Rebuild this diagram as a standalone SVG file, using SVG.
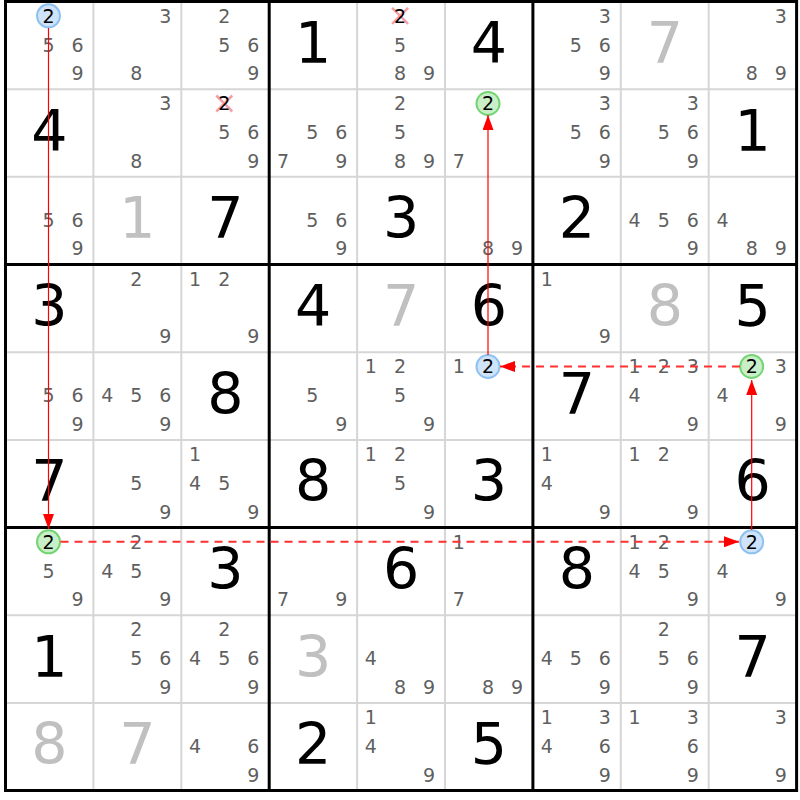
<svg xmlns="http://www.w3.org/2000/svg" width="800" height="800" viewBox="0 0 800 800">
<style>
text{font-family:"DejaVu Sans","Liberation Sans",sans-serif;text-anchor:middle}
.c{font-size:19px;fill:#5f5f5f}
.h{font-size:19px;fill:#000}
.g{font-size:57px;fill:#000}
.s{font-size:57px;fill:#c0c0c0}
.thin{stroke:#d6d6d6;stroke-width:2}
.thick{stroke:#000;stroke-width:3}
.blue{fill:#cfe4fb;stroke:#8ec1f0;stroke-width:2}
.green{fill:#c8efc8;stroke:#74d474;stroke-width:2}
.x{stroke:#f4a0a8;stroke-width:2.5;fill:none}
.solid{stroke:#ff0000;stroke-width:1.2;fill:none}
.dash{stroke:#ff3030;stroke-width:2;fill:none;stroke-dasharray:8 6}
</style>
<defs>
<marker id="ah" markerWidth="15" markerHeight="11" refX="15" refY="5.5" orient="auto" markerUnits="userSpaceOnUse">
<path d="M0,0 L15,5.5 L0,11 z" fill="#ff0000" stroke="none"/>
</marker>
</defs>
<rect x="0" y="0" width="800" height="800" fill="#fff"/>
<g id="grid">
<path class="thin" d="M93.4,1.5V790.5M181.3,1.5V790.5M357.1,1.5V790.5M445,1.5V790.5M620.8,1.5V790.5M708.7,1.5V790.5M5.5,89.2H796.6M5.5,176.8H796.6M5.5,352.2H796.6M5.5,439.9H796.6M5.5,615.2H796.6M5.5,702.9H796.6"/>
<path class="thick" d="M269.2,1.5V790.5M532.9,1.5V790.5M5.5,264.5H796.6M5.5,527.5H796.6"/>
<rect class="thick" x="5.5" y="1.5" width="791.1" height="789" fill="none"/>
</g>
<g id="cells">
<!-- row 0 -->
<g id="r0c0" transform="translate(5.5,1.5)"><circle class="blue" cx="43" cy="14.3" r="11.5"/><text class="h" x="43" y="21.3">2</text><text class="c" x="43" y="50">5</text><text class="c" x="72" y="50">6</text><text class="c" x="72" y="78.7">9</text></g>
<g id="r0c1" transform="translate(93.4,1.5)"><text class="c" x="72" y="21.3">3</text><text class="c" x="43" y="78.7">8</text></g>
<g id="r0c2" transform="translate(181.3,1.5)"><text class="c" x="43" y="21.3">2</text><text class="c" x="43" y="50">5</text><text class="c" x="72" y="50">6</text><text class="c" x="72" y="78.7">9</text></g>
<g id="r0c3" transform="translate(269.2,1.5)"><text class="g" x="44" y="61.5">1</text></g>
<g id="r0c4" transform="translate(357.1,1.5)"><path class="x" d="M35,6.3L51,22.3M51,6.3L35,22.3"/><text class="h" x="43" y="21.3">2</text><text class="c" x="43" y="50">5</text><text class="c" x="43" y="78.7">8</text><text class="c" x="72" y="78.7">9</text></g>
<g id="r0c5" transform="translate(445,1.5)"><text class="g" x="44" y="61.5">4</text></g>
<g id="r0c6" transform="translate(532.9,1.5)"><text class="c" x="72" y="21.3">3</text><text class="c" x="43" y="50">5</text><text class="c" x="72" y="50">6</text><text class="c" x="72" y="78.7">9</text></g>
<g id="r0c7" transform="translate(620.8,1.5)"><text class="s" x="44" y="61.5">7</text></g>
<g id="r0c8" transform="translate(708.7,1.5)"><text class="c" x="72" y="21.3">3</text><text class="c" x="43" y="78.7">8</text><text class="c" x="72" y="78.7">9</text></g>
<!-- row 1 -->
<g id="r1c0" transform="translate(5.5,89.2)"><text class="g" x="44" y="61.5">4</text></g>
<g id="r1c1" transform="translate(93.4,89.2)"><text class="c" x="72" y="21.3">3</text><text class="c" x="43" y="78.7">8</text></g>
<g id="r1c2" transform="translate(181.3,89.2)"><path class="x" d="M35,6.3L51,22.3M51,6.3L35,22.3"/><text class="h" x="43" y="21.3">2</text><text class="c" x="43" y="50">5</text><text class="c" x="72" y="50">6</text><text class="c" x="72" y="78.7">9</text></g>
<g id="r1c3" transform="translate(269.2,89.2)"><text class="c" x="43" y="50">5</text><text class="c" x="72" y="50">6</text><text class="c" x="13.8" y="78.7">7</text><text class="c" x="72" y="78.7">9</text></g>
<g id="r1c4" transform="translate(357.1,89.2)"><text class="c" x="43" y="21.3">2</text><text class="c" x="43" y="50">5</text><text class="c" x="43" y="78.7">8</text><text class="c" x="72" y="78.7">9</text></g>
<g id="r1c5" transform="translate(445,89.2)"><circle class="green" cx="43" cy="14.3" r="11.5"/><text class="h" x="43" y="21.3">2</text><text class="c" x="13.8" y="78.7">7</text></g>
<g id="r1c6" transform="translate(532.9,89.2)"><text class="c" x="72" y="21.3">3</text><text class="c" x="43" y="50">5</text><text class="c" x="72" y="50">6</text><text class="c" x="72" y="78.7">9</text></g>
<g id="r1c7" transform="translate(620.8,89.2)"><text class="c" x="72" y="21.3">3</text><text class="c" x="43" y="50">5</text><text class="c" x="72" y="50">6</text><text class="c" x="72" y="78.7">9</text></g>
<g id="r1c8" transform="translate(708.7,89.2)"><text class="g" x="44" y="61.5">1</text></g>
<!-- row 2 -->
<g id="r2c0" transform="translate(5.5,176.8)"><text class="c" x="43" y="50">5</text><text class="c" x="72" y="50">6</text><text class="c" x="72" y="78.7">9</text></g>
<g id="r2c1" transform="translate(93.4,176.8)"><text class="s" x="44" y="61.5">1</text></g>
<g id="r2c2" transform="translate(181.3,176.8)"><text class="g" x="44" y="61.5">7</text></g>
<g id="r2c3" transform="translate(269.2,176.8)"><text class="c" x="43" y="50">5</text><text class="c" x="72" y="50">6</text><text class="c" x="72" y="78.7">9</text></g>
<g id="r2c4" transform="translate(357.1,176.8)"><text class="g" x="44" y="61.5">3</text></g>
<g id="r2c5" transform="translate(445,176.8)"><text class="c" x="43" y="78.7">8</text><text class="c" x="72" y="78.7">9</text></g>
<g id="r2c6" transform="translate(532.9,176.8)"><text class="g" x="44" y="61.5">2</text></g>
<g id="r2c7" transform="translate(620.8,176.8)"><text class="c" x="13.8" y="50">4</text><text class="c" x="43" y="50">5</text><text class="c" x="72" y="50">6</text><text class="c" x="72" y="78.7">9</text></g>
<g id="r2c8" transform="translate(708.7,176.8)"><text class="c" x="13.8" y="50">4</text><text class="c" x="43" y="78.7">8</text><text class="c" x="72" y="78.7">9</text></g>
<!-- row 3 -->
<g id="r3c0" transform="translate(5.5,264.5)"><text class="g" x="44" y="61.5">3</text></g>
<g id="r3c1" transform="translate(93.4,264.5)"><text class="c" x="43" y="21.3">2</text><text class="c" x="72" y="78.7">9</text></g>
<g id="r3c2" transform="translate(181.3,264.5)"><text class="c" x="13.8" y="21.3">1</text><text class="c" x="43" y="21.3">2</text><text class="c" x="72" y="78.7">9</text></g>
<g id="r3c3" transform="translate(269.2,264.5)"><text class="g" x="44" y="61.5">4</text></g>
<g id="r3c4" transform="translate(357.1,264.5)"><text class="s" x="44" y="61.5">7</text></g>
<g id="r3c5" transform="translate(445,264.5)"><text class="g" x="44" y="61.5">6</text></g>
<g id="r3c6" transform="translate(532.9,264.5)"><text class="c" x="13.8" y="21.3">1</text><text class="c" x="72" y="78.7">9</text></g>
<g id="r3c7" transform="translate(620.8,264.5)"><text class="s" x="44" y="61.5">8</text></g>
<g id="r3c8" transform="translate(708.7,264.5)"><text class="g" x="44" y="61.5">5</text></g>
<!-- row 4 -->
<g id="r4c0" transform="translate(5.5,352.2)"><text class="c" x="43" y="50">5</text><text class="c" x="72" y="50">6</text><text class="c" x="72" y="78.7">9</text></g>
<g id="r4c1" transform="translate(93.4,352.2)"><text class="c" x="13.8" y="50">4</text><text class="c" x="43" y="50">5</text><text class="c" x="72" y="50">6</text><text class="c" x="72" y="78.7">9</text></g>
<g id="r4c2" transform="translate(181.3,352.2)"><text class="g" x="44" y="61.5">8</text></g>
<g id="r4c3" transform="translate(269.2,352.2)"><text class="c" x="43" y="50">5</text><text class="c" x="72" y="78.7">9</text></g>
<g id="r4c4" transform="translate(357.1,352.2)"><text class="c" x="13.8" y="21.3">1</text><text class="c" x="43" y="21.3">2</text><text class="c" x="43" y="50">5</text><text class="c" x="72" y="78.7">9</text></g>
<g id="r4c5" transform="translate(445,352.2)"><text class="c" x="13.8" y="21.3">1</text><circle class="blue" cx="43" cy="14.3" r="11.5"/><text class="h" x="43" y="21.3">2</text></g>
<g id="r4c6" transform="translate(532.9,352.2)"><text class="g" x="44" y="61.5">7</text></g>
<g id="r4c7" transform="translate(620.8,352.2)"><text class="c" x="13.8" y="21.3">1</text><text class="c" x="43" y="21.3">2</text><text class="c" x="72" y="21.3">3</text><text class="c" x="13.8" y="50">4</text><text class="c" x="72" y="78.7">9</text></g>
<g id="r4c8" transform="translate(708.7,352.2)"><circle class="green" cx="43" cy="14.3" r="11.5"/><text class="h" x="43" y="21.3">2</text><text class="c" x="72" y="21.3">3</text><text class="c" x="13.8" y="50">4</text><text class="c" x="72" y="78.7">9</text></g>
<!-- row 5 -->
<g id="r5c0" transform="translate(5.5,439.9)"><text class="g" x="44" y="61.5">7</text></g>
<g id="r5c1" transform="translate(93.4,439.9)"><text class="c" x="43" y="50">5</text><text class="c" x="72" y="78.7">9</text></g>
<g id="r5c2" transform="translate(181.3,439.9)"><text class="c" x="13.8" y="21.3">1</text><text class="c" x="13.8" y="50">4</text><text class="c" x="43" y="50">5</text><text class="c" x="72" y="78.7">9</text></g>
<g id="r5c3" transform="translate(269.2,439.9)"><text class="g" x="44" y="61.5">8</text></g>
<g id="r5c4" transform="translate(357.1,439.9)"><text class="c" x="13.8" y="21.3">1</text><text class="c" x="43" y="21.3">2</text><text class="c" x="43" y="50">5</text><text class="c" x="72" y="78.7">9</text></g>
<g id="r5c5" transform="translate(445,439.9)"><text class="g" x="44" y="61.5">3</text></g>
<g id="r5c6" transform="translate(532.9,439.9)"><text class="c" x="13.8" y="21.3">1</text><text class="c" x="13.8" y="50">4</text><text class="c" x="72" y="78.7">9</text></g>
<g id="r5c7" transform="translate(620.8,439.9)"><text class="c" x="13.8" y="21.3">1</text><text class="c" x="43" y="21.3">2</text><text class="c" x="72" y="78.7">9</text></g>
<g id="r5c8" transform="translate(708.7,439.9)"><text class="g" x="44" y="61.5">6</text></g>
<!-- row 6 -->
<g id="r6c0" transform="translate(5.5,527.5)"><circle class="green" cx="43" cy="14.3" r="11.5"/><text class="h" x="43" y="21.3">2</text><text class="c" x="43" y="50">5</text><text class="c" x="72" y="78.7">9</text></g>
<g id="r6c1" transform="translate(93.4,527.5)"><text class="c" x="43" y="21.3">2</text><text class="c" x="13.8" y="50">4</text><text class="c" x="43" y="50">5</text><text class="c" x="72" y="78.7">9</text></g>
<g id="r6c2" transform="translate(181.3,527.5)"><text class="g" x="44" y="61.5">3</text></g>
<g id="r6c3" transform="translate(269.2,527.5)"><text class="c" x="13.8" y="78.7">7</text><text class="c" x="72" y="78.7">9</text></g>
<g id="r6c4" transform="translate(357.1,527.5)"><text class="g" x="44" y="61.5">6</text></g>
<g id="r6c5" transform="translate(445,527.5)"><text class="c" x="13.8" y="21.3">1</text><text class="c" x="13.8" y="78.7">7</text></g>
<g id="r6c6" transform="translate(532.9,527.5)"><text class="g" x="44" y="61.5">8</text></g>
<g id="r6c7" transform="translate(620.8,527.5)"><text class="c" x="13.8" y="21.3">1</text><text class="c" x="43" y="21.3">2</text><text class="c" x="13.8" y="50">4</text><text class="c" x="43" y="50">5</text><text class="c" x="72" y="78.7">9</text></g>
<g id="r6c8" transform="translate(708.7,527.5)"><circle class="blue" cx="43" cy="14.3" r="11.5"/><text class="h" x="43" y="21.3">2</text><text class="c" x="13.8" y="50">4</text><text class="c" x="72" y="78.7">9</text></g>
<!-- row 7 -->
<g id="r7c0" transform="translate(5.5,615.2)"><text class="g" x="44" y="61.5">1</text></g>
<g id="r7c1" transform="translate(93.4,615.2)"><text class="c" x="43" y="21.3">2</text><text class="c" x="43" y="50">5</text><text class="c" x="72" y="50">6</text><text class="c" x="72" y="78.7">9</text></g>
<g id="r7c2" transform="translate(181.3,615.2)"><text class="c" x="43" y="21.3">2</text><text class="c" x="13.8" y="50">4</text><text class="c" x="43" y="50">5</text><text class="c" x="72" y="50">6</text><text class="c" x="72" y="78.7">9</text></g>
<g id="r7c3" transform="translate(269.2,615.2)"><text class="s" x="44" y="61.5">3</text></g>
<g id="r7c4" transform="translate(357.1,615.2)"><text class="c" x="13.8" y="50">4</text><text class="c" x="43" y="78.7">8</text><text class="c" x="72" y="78.7">9</text></g>
<g id="r7c5" transform="translate(445,615.2)"><text class="c" x="43" y="78.7">8</text><text class="c" x="72" y="78.7">9</text></g>
<g id="r7c6" transform="translate(532.9,615.2)"><text class="c" x="13.8" y="50">4</text><text class="c" x="43" y="50">5</text><text class="c" x="72" y="50">6</text><text class="c" x="72" y="78.7">9</text></g>
<g id="r7c7" transform="translate(620.8,615.2)"><text class="c" x="43" y="21.3">2</text><text class="c" x="43" y="50">5</text><text class="c" x="72" y="50">6</text><text class="c" x="72" y="78.7">9</text></g>
<g id="r7c8" transform="translate(708.7,615.2)"><text class="g" x="44" y="61.5">7</text></g>
<!-- row 8 -->
<g id="r8c0" transform="translate(5.5,702.9)"><text class="s" x="44" y="61.5">8</text></g>
<g id="r8c1" transform="translate(93.4,702.9)"><text class="s" x="44" y="61.5">7</text></g>
<g id="r8c2" transform="translate(181.3,702.9)"><text class="c" x="13.8" y="50">4</text><text class="c" x="72" y="50">6</text><text class="c" x="72" y="78.7">9</text></g>
<g id="r8c3" transform="translate(269.2,702.9)"><text class="g" x="44" y="61.5">2</text></g>
<g id="r8c4" transform="translate(357.1,702.9)"><text class="c" x="13.8" y="21.3">1</text><text class="c" x="13.8" y="50">4</text><text class="c" x="72" y="78.7">9</text></g>
<g id="r8c5" transform="translate(445,702.9)"><text class="g" x="44" y="61.5">5</text></g>
<g id="r8c6" transform="translate(532.9,702.9)"><text class="c" x="13.8" y="21.3">1</text><text class="c" x="72" y="21.3">3</text><text class="c" x="13.8" y="50">4</text><text class="c" x="72" y="50">6</text><text class="c" x="72" y="78.7">9</text></g>
<g id="r8c7" transform="translate(620.8,702.9)"><text class="c" x="13.8" y="21.3">1</text><text class="c" x="72" y="21.3">3</text><text class="c" x="72" y="50">6</text><text class="c" x="72" y="78.7">9</text></g>
<g id="r8c8" transform="translate(708.7,702.9)"><text class="c" x="72" y="21.3">3</text><text class="c" x="72" y="78.7">9</text></g>
</g>
<g id="connectors">
<path class="solid" d="M48.5,28V529" marker-end="url(#ah)"/>
<path class="dash" d="M60.5,541.8H739" marker-end="url(#ah)"/>
<path class="solid" d="M751.7,530V380" marker-end="url(#ah)"/>
<path class="dash" d="M740,366.5H500" marker-end="url(#ah)"/>
<path class="solid" d="M488,355V115" marker-end="url(#ah)"/>
</g>
</svg>
